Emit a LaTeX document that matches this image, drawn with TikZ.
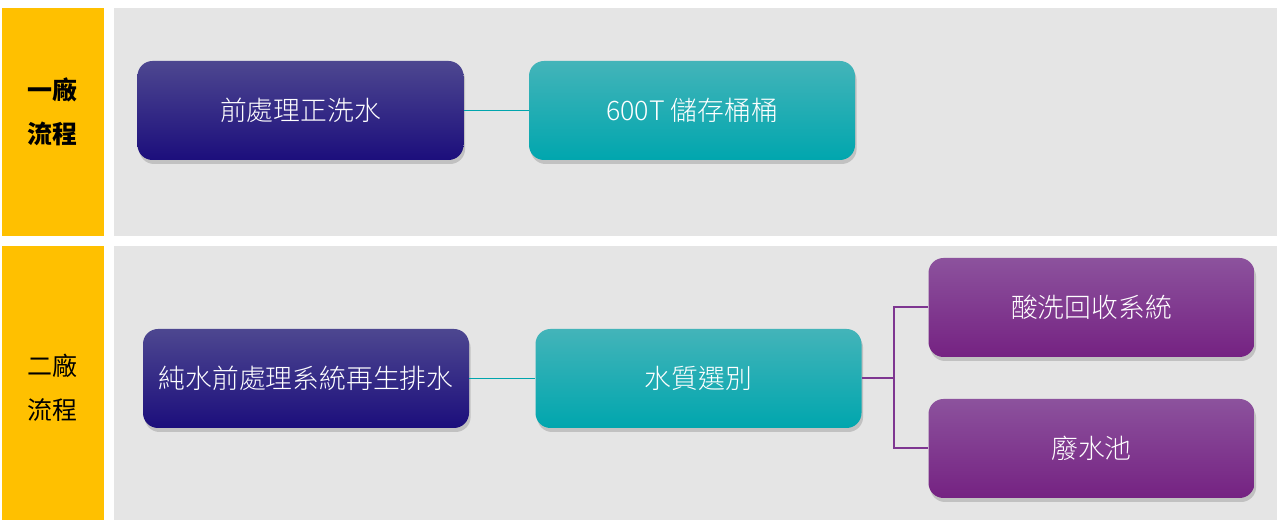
\documentclass[tikz,border=0pt]{standalone}
\usepackage{fontspec}
\setmainfont{Noto Sans CJK TC}
\newfontfamily\boxfont{Noto Sans CJK TC Light}
\usetikzlibrary{shadows, positioning}
\usepackage{xcolor}
\definecolor{bandyellow}{HTML}{FFC000}
\definecolor{panelgray}{HTML}{E5E5E5}
\definecolor{indigotop}{HTML}{4D4790}
\definecolor{indigobot}{HTML}{1C0E7C}
\definecolor{tealtop}{HTML}{43B4B9}
\definecolor{tealbot}{HTML}{00A6AE}
\definecolor{plumtop}{HTML}{8C529D}
\definecolor{plumbot}{HTML}{752282}
\definecolor{tealline}{HTML}{00A5AD}
\definecolor{plumline}{HTML}{7E3691}

\begin{document}
\begin{tikzpicture}[x=0.5pt, y=-0.5pt,
    every node/.style={font=\boxfont\fontsize{13.4}{15}\selectfont},
    flowbox/.style={rectangle, rounded corners=7.5pt, minimum width=163pt,
                    minimum height=49.5pt, inner sep=0pt, text=white,
                    drop shadow={opacity=0.35, shadow xshift=0.8pt, shadow yshift=-2pt}},
    srcbox/.style={flowbox, top color=indigotop, bottom color=indigobot},
    midbox/.style={flowbox, top color=tealtop, bottom color=tealbot},
    endbox/.style={flowbox, top color=plumtop, bottom color=plumbot},
    bandlabel/.style={align=center, text=black, font=\fontsize{12.5}{22}\selectfont},
    tlink/.style={draw=tealline, line width=0.8pt},
    plink/.style={draw=plumline, line width=1pt}
]
    \useasboundingbox[fill=white] (0,0) rectangle (1279,522);
    % bands
    \fill[bandyellow] (2,8)   rectangle (104,236);
    \fill[panelgray]  (114,8) rectangle (1277,236);
    \fill[bandyellow] (2,246)   rectangle (104,520);
    \fill[panelgray]  (114,246) rectangle (1277,520);
    \node[bandlabel, font=\fontsize{12.5}{22}\selectfont\bfseries] (plant1) at (52,112) {一廠\\流程};
    \node[bandlabel] (plant2) at (52,388) {二廠\\流程};

    % plant 1
    \node[srcbox] (prewash) at (300.5,110.5) {前處理正洗水};
    \node[midbox] (tank)    at (692,110.5)   {600T 儲存桶桶};
    \draw[tlink] (prewash) -- (tank);

    % plant 2
    \node[srcbox] (regen)   at (306,378.5)    {純水前處理系統再生排水};
    \node[midbox] (quality) at (698.5,378.5)  {水質選別};
    \node[endbox] (acid)    at (1091.5,307.5) {酸洗回收系統};
    \node[endbox] (waste)   at (1091.5,448.5) {廢水池};
    \coordinate (split) at (894,378.5);
    \draw[tlink] (regen) -- (quality);
    \draw[plink] (quality.east) -- (split);
    \draw[plink] (acid.west) -| (split) |- (waste.west);
\end{tikzpicture}
\end{document}
